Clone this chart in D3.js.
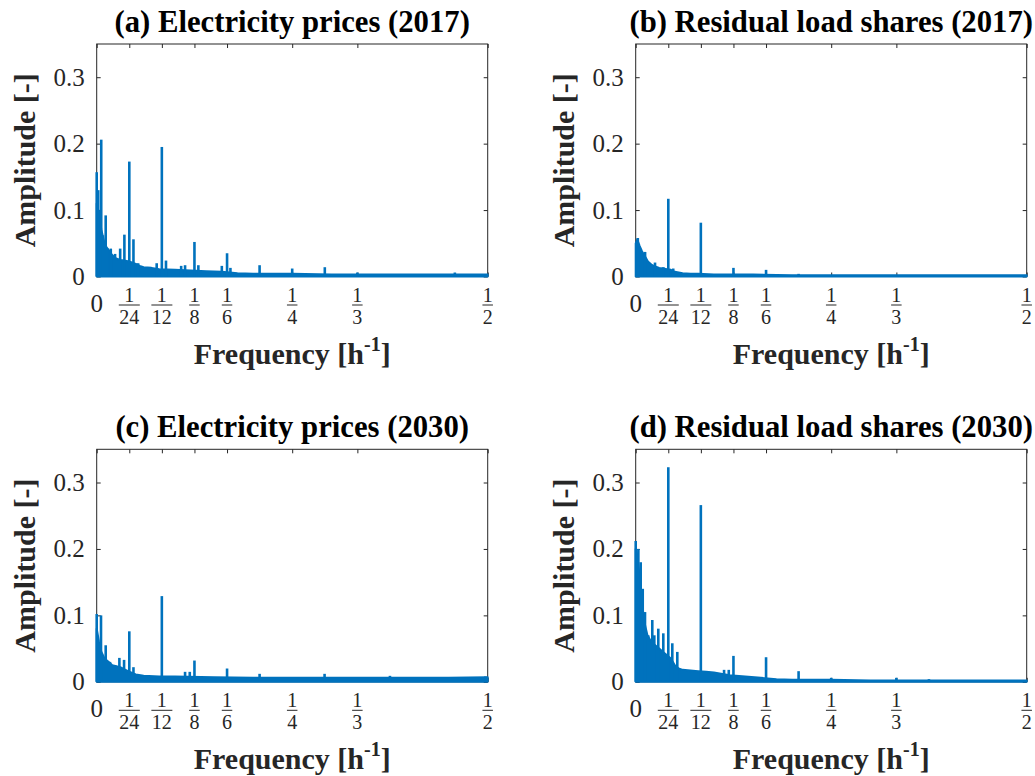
<!DOCTYPE html>
<html>
<head>
<meta charset="utf-8">
<script src="https://cdn.jsdelivr.net/npm/d3@7"></script>
<style>
body { margin: 0; background: #fff; }
</style>
</head>
<body>
<div id="graph"></div>
<script>
// tick setup
const xTicks = [0, 1/24, 1/12, 1/8, 1/6, 1/4, 1/3, 1/2]
const xTickDen = [null, 24, 12, 8, 6, 4, 3, 2]
const yTicks = [0, 0.1, 0.2, 0.3]
const yTickLabels = ['0', '0.1', '0.2', '0.3']

const titles = [
  '(a) Electricity prices (2017)',
  '(b) Residual load shares (2017)',
  '(c) Electricity prices (2030)',
  '(d) Residual load shares (2030)'
]

// dense part of each spectrum: upper envelope
const bandA_f  = [0, 0.002, 0.004, 0.006, 0.008, 0.01, 0.012, 0.015, 0.02, 0.025, 0.03, 0.035, 0.04, 0.045, 0.05, 0.055, 0.06, 0.07, 0.08, 0.1, 0.12, 0.14, 0.16, 0.18, 0.2, 0.25, 0.3, 0.35, 0.4, 0.45, 0.5]
const bandA_hi = [0.11, 0.1, 0.085, 0.07, 0.06, 0.05, 0.045, 0.04, 0.032, 0.027, 0.025, 0.024, 0.023, 0.021, 0.019, 0.016, 0.014, 0.013, 0.011, 0.01, 0.009, 0.008, 0.007, 0.005, 0.004, 0.004, 0.003, 0.003, 0.003, 0.003, 0.003]

const bandB_f  = [0, 0.002, 0.005, 0.008, 0.012, 0.016, 0.02, 0.025, 0.03, 0.035, 0.04, 0.045, 0.05, 0.06, 0.07, 0.08, 0.1, 0.15, 0.2, 0.3, 0.4, 0.5]
const bandB_hi = [0.05, 0.056, 0.046, 0.038, 0.03, 0.022, 0.018, 0.015, 0.013, 0.012, 0.011, 0.01, 0.007, 0.005, 0.004, 0.004, 0.003, 0.003, 0.002, 0.002, 0.002, 0.002]

const bandC_f  = [0, 0.003, 0.006, 0.01, 0.015, 0.02, 0.03, 0.04, 0.05, 0.06, 0.08, 0.1, 0.15, 0.2, 0.25, 0.3, 0.35, 0.4, 0.45, 0.5]
const bandC_hi = [0.08, 0.06, 0.045, 0.035, 0.03, 0.025, 0.022, 0.016, 0.011, 0.009, 0.008, 0.008, 0.007, 0.006, 0.006, 0.006, 0.006, 0.006, 0.006, 0.007]

const bandD_f  = [0, 0.002, 0.004, 0.006, 0.008, 0.01, 0.012, 0.015, 0.02, 0.025, 0.03, 0.035, 0.04, 0.045, 0.05, 0.055, 0.06, 0.07, 0.08, 0.09, 0.1, 0.12, 0.14, 0.16, 0.18, 0.2, 0.25, 0.3, 0.4, 0.5]
const bandD_hi = [0.2, 0.19, 0.17, 0.15, 0.12, 0.1, 0.085, 0.07, 0.06, 0.055, 0.05, 0.045, 0.04, 0.035, 0.025, 0.02, 0.018, 0.017, 0.016, 0.015, 0.014, 0.01, 0.008, 0.006, 0.004, 0.003, 0.003, 0.002, 0.002, 0.002]

// individual spikes (frequency, amplitude)
const peaksA_f = [0, 0.002, 0.003, 0.0058, 0.008, 0.0115, 0.014, 0.018, 0.0235, 0.03, 0.0354, 0.0417, 0.047, 0.053, 0.0767, 0.0833, 0.0886, 0.108, 0.113, 0.125, 0.13, 0.16, 0.1667, 0.171, 0.2083, 0.25, 0.2917, 0.3333, 0.458]
const peaksA_a = [0.157, 0.13, 0.1, 0.206, 0.062, 0.092, 0.042, 0.042, 0.034, 0.042, 0.063, 0.173, 0.056, 0.02, 0.02, 0.195, 0.024, 0.016, 0.017, 0.052, 0.017, 0.016, 0.035, 0.013, 0.017, 0.012, 0.014, 0.006, 0.006]

const peaksB_f = [0.0027, 0.012, 0.0247, 0.0354, 0.0417, 0.048, 0.0833, 0.125, 0.1667, 0.2083]
const peaksB_a = [0.058, 0.037, 0.021, 0.014, 0.117, 0.012, 0.081, 0.013, 0.01, 0.004]

const peaksC_f = [0, 0.0055, 0.0115, 0.017, 0.0235, 0.029, 0.035, 0.0417, 0.047, 0.0833, 0.113, 0.119, 0.125, 0.1667, 0.2083, 0.2914, 0.375, 0.497]
const peaksC_a = [0.102, 0.1, 0.055, 0.03, 0.025, 0.036, 0.033, 0.076, 0.022, 0.129, 0.015, 0.015, 0.032, 0.02, 0.012, 0.012, 0.009, 0.008]

const peaksD_f = [0, 0.0034, 0.0064, 0.009, 0.0119, 0.016, 0.0212, 0.0238, 0.0289, 0.0353, 0.0417, 0.0468, 0.0532, 0.0833, 0.113, 0.119, 0.125, 0.1667, 0.2083, 0.25, 0.3333, 0.375]
const peaksD_a = [0.212, 0.2, 0.18, 0.14, 0.105, 0.07, 0.093, 0.07, 0.08, 0.073, 0.323, 0.058, 0.045, 0.266, 0.018, 0.018, 0.039, 0.037, 0.016, 0.006, 0.006, 0.004]

const panels = [
  {bf: bandA_f, bh: bandA_hi, pf: peaksA_f, pa: peaksA_a},
  {bf: bandB_f, bh: bandB_hi, pf: peaksB_f, pa: peaksB_a},
  {bf: bandC_f, bh: bandC_hi, pf: peaksC_f, pa: peaksC_a},
  {bf: bandD_f, bh: bandD_hi, pf: peaksD_f, pa: peaksD_a}
]

const lefts = [96.7, 635.7]
const tops = [44, 449.3]
const width = 391
const height = 232.5
const blue = '#0072BD'
const axisCol = '#262626'
const serif = 'Liberation Serif, Times New Roman, serif'

const svg = d3.select('#graph')
  .append('svg')
  .attr('width', 1035)
  .attr('height', 776)

const x = d3.scaleLinear().domain([0, 0.5]).range([0, width])
const y = d3.scaleLinear().domain([0, 0.35]).range([height, 0])

panels.forEach((p, i) => {
  const g = svg.append('g')
    .attr('transform', `translate(${lefts[i % 2]},${tops[Math.floor(i / 2)]})`)

  // axes with inward ticks on all four sides
  g.append('g').attr('transform', `translate(0,${height})`)
    .call(d3.axisBottom(x).tickValues(xTicks).tickSizeInner(-4).tickSizeOuter(0).tickFormat(''))
  g.append('g')
    .call(d3.axisTop(x).tickValues(xTicks).tickSizeInner(-4).tickSizeOuter(0).tickFormat(''))
  g.append('g')
    .call(d3.axisLeft(y).tickValues(yTicks).tickSizeInner(-4).tickSizeOuter(0)
      .tickFormat((d, k) => yTickLabels[k]).tickPadding(12))
  g.append('g').attr('transform', `translate(${width},0)`)
    .call(d3.axisRight(y).tickValues(yTicks).tickSizeInner(-4).tickSizeOuter(0).tickFormat(''))

  g.selectAll('.domain').remove()
  g.selectAll('.tick line').attr('stroke', axisCol)
  g.selectAll('.tick text')
    .attr('font-family', serif)
    .attr('font-size', 25)
    .attr('fill', axisCol)

  g.append('rect')
    .attr('width', width)
    .attr('height', height)
    .attr('fill', 'none')
    .attr('stroke', axisCol)
    .attr('stroke-width', 1)

  // x tick labels as fractions
  const xl = g.append('g').attr('font-family', serif).attr('fill', axisCol)
  xTicks.forEach((t, k) => {
    const cx = x(t)
    if (xTickDen[k] == null) {
      xl.append('text').attr('x', cx).attr('y', height + 35.7)
        .attr('text-anchor', 'middle').attr('font-size', 25).text('0')
      return
    }
    const bw = String(xTickDen[k]).length * 10.5
    xl.append('text').attr('x', cx).attr('y', height + 25.2)
      .attr('text-anchor', 'middle').attr('font-size', 20).text('1')
    xl.append('line')
      .attr('x1', cx - bw / 2).attr('x2', cx + bw / 2)
      .attr('y1', height + 28.5).attr('y2', height + 28.5)
      .attr('stroke', axisCol).attr('stroke-width', 1)
    xl.append('text').attr('x', cx).attr('y', height + 47.4)
      .attr('text-anchor', 'middle').attr('font-size', 20).text(xTickDen[k])
  })

  // dense spectrum band
  const band = p.bf.map((f, k) => ({f: f, a: p.bh[k]}))
  const area = d3.area()
    .x(d => x(d.f))
    .y0(y(0))
    .y1(d => y(d.a))
  g.append('path')
    .datum(band)
    .attr('d', area)
    .attr('fill', blue)
    .attr('stroke', blue)
    .attr('stroke-width', 2)
    .attr('stroke-linejoin', 'round')

  // spikes
  const peaks = p.pf.map((f, k) => ({f: f, a: p.pa[k]}))
  g.selectAll('.spike')
    .data(peaks)
    .enter()
    .append('line')
    .attr('class', 'spike')
    .attr('x1', d => x(d.f)).attr('x2', d => x(d.f))
    .attr('y1', y(0)).attr('y2', d => y(d.a))
    .attr('stroke', blue)
    .attr('stroke-width', 2.6)

  // title
  g.append('text')
    .attr('x', width / 2).attr('y', -12.3)
    .attr('text-anchor', 'middle')
    .attr('font-family', serif).attr('font-weight', 'bold').attr('font-size', 30.7)
    .attr('fill', '#000')
    .text(titles[i])

  // y label
  g.append('text')
    .attr('transform', `translate(-61.7,${height / 2}) rotate(-90)`)
    .attr('text-anchor', 'middle')
    .attr('font-family', serif).attr('font-weight', 'bold').attr('font-size', 30)
    .attr('fill', axisCol)
    .text('Amplitude [-]')

  // x label with superscript
  const xt = g.append('text')
    .attr('x', width / 2).attr('y', height + 87)
    .attr('text-anchor', 'middle')
    .attr('font-family', serif).attr('font-weight', 'bold').attr('font-size', 30)
    .attr('fill', axisCol)
  xt.append('tspan').text('Frequency [h')
  xt.append('tspan').attr('font-size', 20).attr('dy', -13).text('-1')
  xt.append('tspan').attr('dy', 13).text(']')
})
</script>
</body>
</html>
